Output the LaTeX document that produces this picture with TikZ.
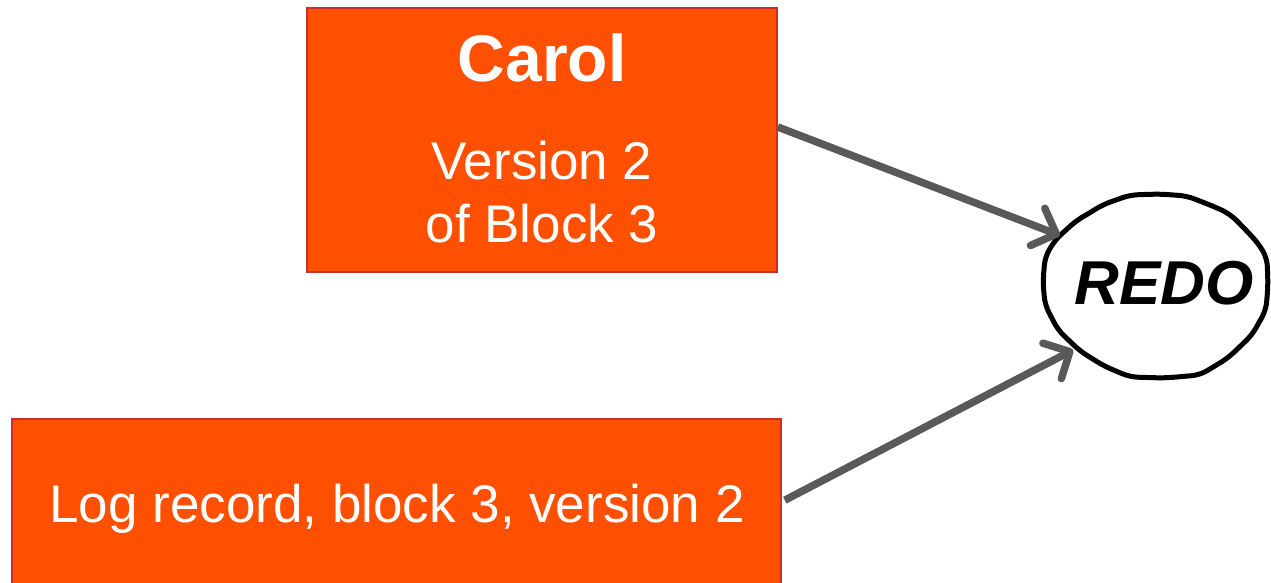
\documentclass[tikz,border=0pt]{standalone}
\usepackage{fontspec}
\setmainfont{Liberation Sans}
\usetikzlibrary{arrows.meta,calc,shapes.geometric}
\definecolor{blockfill}{HTML}{FF4F00}
\definecolor{blockline}{HTML}{C8302E}
\definecolor{arrowgray}{HTML}{595959}
\tikzset{
  block/.style={draw=blockline, line width=1.6pt, fill=blockfill, inner sep=0pt},
  btext/.style={text=white, inner sep=0pt, anchor=base},
  flow/.style={draw=arrowgray, line width=7.5pt,
    -{Straight Barb[length=20pt, width=40pt, line width=7.5pt, line cap=round, line join=round]}},
}
\begin{document}
\begin{tikzpicture}[x=1pt, y=-1pt]
\useasboundingbox (0,0) rectangle (1271,583);
\clip (0,0) rectangle (1271,583);

% Carol's buffer
\node[block, minimum width=470pt, minimum height=264pt] (carol) at (542,140) {};
\node[btext, font=\bfseries\fontsize{66}{66}\selectfont] (carolname) at (542,82) {Carol};
\node[btext, font=\fontsize{53}{63}\selectfont] (ver) at (542,179) {Version 2};
\node[btext, font=\fontsize{53}{63}\selectfont] (blk) at (542,242) {of Block 3};

% log record
\node[block, minimum width=769pt, minimum height=200pt] (log) at (396.5,519) {};
\node[btext, font=\fontsize{53}{63}\selectfont] (logtext) at (397,522) {Log record, block 3, version 2};

% redo operation
\node[ellipse, minimum width=228pt, minimum height=183pt, inner sep=0pt] (redo) at (1155,286) {};
\draw[line width=5pt, line join=round, rounded corners=8pt]
  (1130,195) -- (1160,194) -- (1187,196) -- (1215,207) -- (1230,214) -- (1242,226) -- (1258,243)
  -- (1267,258) -- (1268,285) -- (1266,310) -- (1252,335) -- (1228,358) -- (1200,375)
  -- (1165,378) -- (1130,377) -- (1104,366) -- (1080,351) -- (1058,330) -- (1045,305)
  -- (1043,282) -- (1045,257) -- (1055,240) -- (1077,220) -- (1088,214) -- (1102,205) -- cycle;
\node[inner sep=0pt, anchor=base, font=\bfseries\itshape\fontsize{62}{62}\selectfont] (redotext) at (1164,304) {REDO};

% connectors
\draw[flow] ([yshift=13pt]carol.east) -- (redo.152);
\draw[flow] ($(log.north east)+(3,82)$) -- (redo.218);
\end{tikzpicture}
\end{document}
